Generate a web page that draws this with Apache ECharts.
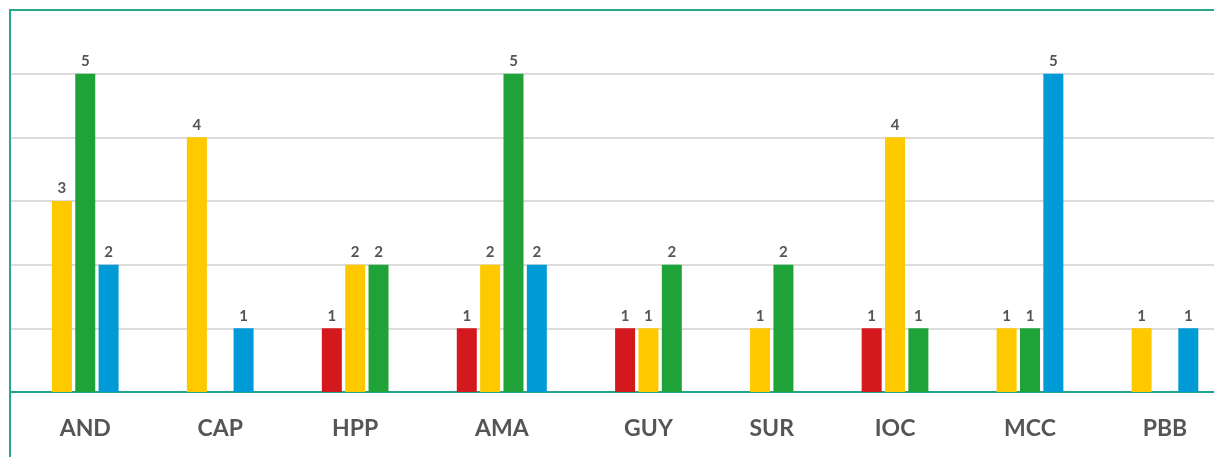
<!DOCTYPE html>
<html>
<head>
<meta charset="utf-8">
<script src="https://cdn.jsdelivr.net/npm/echarts@6/dist/echarts.min.js"></script>
<style>
  html, body { margin: 0; padding: 0; background: #fff; }
  #chart { width: 1214px; height: 457px; }
</style>
</head>
<body>
<div id="chart"></div>
<script>
// ---- data ----
const categories = ['AND', 'CAP', 'HPP', 'AMA', 'GUY', 'SUR', 'IOC', 'MCC', 'PBB'];
// null = series not present in this group (no slot), 0 = slot kept but empty
const redValues    = [null, null, 1, 1, 1, null, 1, null, null];
const yellowValues = [3, 4, 2, 2, 1, 1, 4, 1, 1];
const greenValues  = [5, 0, 2, 5, 2, 2, 1, 1, 0];
const blueValues   = [2, 1, null, 2, null, null, null, 5, 1];
const yTicks = [0, 1, 2, 3, 4, 5, 6];

const seriesDefs = [
  { name: 'Red',    values: redValues,    color: '#d3191e' },
  { name: 'Yellow', values: yellowValues, color: '#ffc900' },
  { name: 'Green',  values: greenValues,  color: '#1fa238' },
  { name: 'Blue',   values: blueValues,   color: '#009bd7' }
];

// ---- layout: bars of a group are packed side by side (1 slot each), groups separated by a gap ----
const GROUP_GAP = 3.78;     // distance (in slots) between last bar of a group and first bar of the next
const SLOT_PX = 23.35;      // pixel width of one slot
const GRID_LEFT = 11, GRID_RIGHT = 0;
const CHART_W = 1214;
const X_MIN = -2.18;
const X_MAX = X_MIN + (CHART_W - GRID_LEFT - GRID_RIGHT) / SLOT_PX;

const seriesData = seriesDefs.map(() => []);
const groupCenters = [];
let pos = 0;
categories.forEach((cat, k) => {
  const present = seriesDefs.map((s, i) => i).filter(i => seriesDefs[i].values[k] !== null);
  present.forEach((si, j) => {
    const v = seriesDefs[si].values[k];
    if (v > 0) seriesData[si].push([pos + j, v]);
  });
  groupCenters.push(pos + (present.length - 1) / 2);
  pos += (present.length - 1) + GROUP_GAP;
});

function catName(v) {
  let best = 0, bd = Infinity;
  groupCenters.forEach((c, i) => { const d = Math.abs(c - v); if (d < bd) { bd = d; best = i; } });
  return categories[best];
}

const chart = echarts.init(document.getElementById('chart'), null, { renderer: 'canvas' });
const teal = '#27a78f';

chart.setOption({
  animation: false,
  backgroundColor: '#fff',
  grid: { left: GRID_LEFT, right: GRID_RIGHT, top: 10, bottom: 65, containLabel: false, outerBoundsMode: 'none' },
  xAxis: {
    type: 'value',
    min: X_MIN,
    max: X_MAX,
    splitLine: { show: false },
    axisTick: { show: false },
    axisLine: { show: true, onZero: false, lineStyle: { color: '#22a38c', width: 2 } },
    axisLabel: {
      customValues: groupCenters,
      formatter: v => catName(v),
      margin: 25,
      color: '#555',
      fontFamily: 'Lato',
      fontWeight: 'bold',
      fontSize: 23
    }
  },
  yAxis: {
    type: 'value',
    min: yTicks[0],
    max: yTicks[yTicks.length - 1],
    interval: 1,
    axisLine: { show: false },
    axisTick: { show: false },
    axisLabel: { show: false },
    splitLine: { show: true, lineStyle: { color: '#dcdcdc', width: 2 } }
  },
  series: seriesDefs.map((s, i) => ({
    name: s.name,
    type: 'bar',
    barWidth: 20,
    barGap: '-100%',
    data: seriesData[i],
    itemStyle: { color: s.color },
    label: {
      show: true,
      position: 'top',
      distance: 5,
      color: '#555',
      fontFamily: 'Lato',
      fontWeight: 'bold',
      fontSize: 15,
      formatter: p => p.value[1]
    }
  })),
  graphic: [
    { type: 'line', z: 100, shape: { x1: 10, y1: 9, x2: 10, y2: 457 }, style: { stroke: teal, lineWidth: 2 } },
    { type: 'line', z: 100, shape: { x1: 9, y1: 10, x2: 1214, y2: 10 }, style: { stroke: teal, lineWidth: 2 } }
  ]
});
</script>
</body>
</html>
